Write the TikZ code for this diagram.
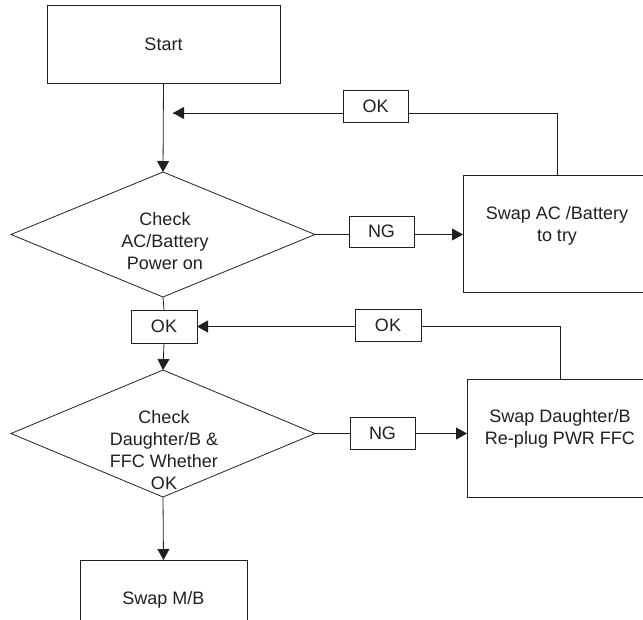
\documentclass[tikz,border=0pt]{standalone}
\usepackage{fontspec}
\setmainfont{Liberation Sans}
\usetikzlibrary{shapes.geometric,arrows.meta}
\definecolor{ink}{RGB}{35,31,32}
\begin{document}
\begin{tikzpicture}[x=1pt,y=-1pt,
  every node/.style={font=\fontsize{18}{22}\selectfont, text=ink},
  box/.style={draw=ink, line width=0.8pt, rectangle, inner sep=0pt, outer sep=0pt, align=center},
  lbl/.style={draw=ink, line width=0.8pt, rectangle, fill=white, inner sep=0pt, outer sep=0pt},
  dia/.style={draw=ink, line width=0.8pt, diamond, inner sep=0pt, outer sep=0pt, minimum width=304pt, minimum height=125pt},
  txt/.style={align=center, inner sep=0pt},
  conn/.style={draw=ink, line width=0.8pt},
  arr/.style={conn, -{Triangle[length=11pt,width=12pt]}}
]
\useasboundingbox (0,0) rectangle (643,619);
\clip (0,0) rectangle (643,619);

% nodes
\node[box, minimum width=233pt, minimum height=78pt] (start) at (163.5,44) {Start};
\node[dia] (d1) at (163,234.5) {};
\node[txt] (t1) at (165,241) {Check\\AC/Battery\\ Power on};
\node[box, minimum width=188pt, minimum height=117pt] (swapac) at (557,233.5) {};
\node[txt] (tac) at (557,226) {Swap AC /Battery\\to try};

\node[lbl, minimum width=66pt, minimum height=33pt] (ok2) at (164,326.5) {OK};
\node[dia, minimum height=127pt] (d2) at (163,433.5) {};
\node[txt] (t2) at (164,450) {Check\\Daughter/B \&\\FFC Whether\\OK};
\node[box, minimum width=186pt, minimum height=118pt] (swapdb) at (560,438) {};
\node[txt] (tdb) at (560,429) {Swap Daughter/B\\Re-plug PWR FFC};
\node[box, minimum width=167pt, minimum height=80pt] (swapmb) at (163.5,600) {Swap M/B};

\coordinate (hit1) at (173,113);

% connectors
\draw[arr] (start.south) -- (d1.north);
\draw[conn] (swapac.north) |- (hit1);
\draw[arr] (swapac.north |- hit1) -- (hit1);
\draw[arr] (d1.east) -- (swapac.west |- d1.east);
\draw[conn] (d1.south) -- (ok2.north);
\draw[arr] (ok2.south) -- (d2.north);
\draw[arr] (swapdb.north) |- (ok2.east);
\draw[arr] (d2.east) -- (swapdb.west |- d2.east);
\draw[arr] (d2.south) -- (swapmb.north);

% labels on connectors
\node[lbl, minimum width=65pt, minimum height=32pt] (ok1) at (375.5,106) {OK};
\node[lbl, minimum width=65pt, minimum height=31pt] (ng1) at (381.5,231.5) {NG};
\node[lbl, minimum width=66pt, minimum height=32pt] (ok3) at (388,325) {OK};
\node[lbl, minimum width=65pt, minimum height=32pt] (ng2) at (382.5,433) {NG};
\end{tikzpicture}
\end{document}
